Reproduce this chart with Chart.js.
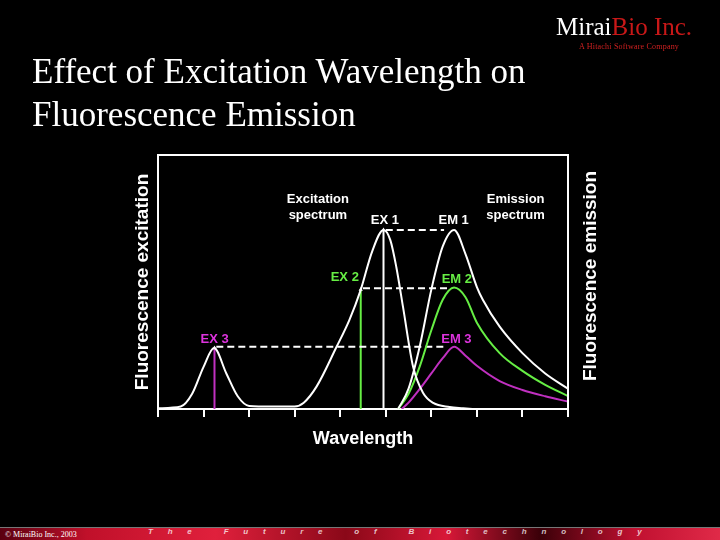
<!DOCTYPE html>
<html lang="en">
<head>
<meta charset="UTF-8">
<title>Effect of Excitation Wavelength on Fluorescence Emission</title>
<script src="https://cdn.jsdelivr.net/npm/chart.js"></script>
<style>
  body { margin:0; background:#000; width:720px; height:540px; overflow:hidden; position:relative; }
  #chart { position:absolute; left:0; top:0; }
  .title { position:absolute; left:32px; top:50px; color:#fff; font-family:"Liberation Serif", serif; font-size:35px; line-height:43px; }
  .logo { position:absolute; left:556px; top:14px; font-family:"Liberation Serif", serif; font-size:25px; line-height:25px; color:#fff; }
  .logo span { color:#c81818; }
  .sub { position:absolute; left:579px; top:42px; font-family:"Liberation Serif", serif; font-size:8px; color:#d02020; letter-spacing:0.2px; }
  .footer { position:absolute; left:0; top:527px; width:720px; height:13px; border-top:1px solid #777;
    background:linear-gradient(90deg,#5a0010 0%,#c0102a 12%,#e0203c 30%,#8a0818 48%,#d81838 62%,#3a0008 75%,#c01030 88%,#e02a48 100%); }
  .copy { position:absolute; left:5px; top:2px; font-family:"Liberation Serif", serif; font-size:8px; color:#fff; }
  .motto { position:absolute; left:148px; top:-1px; font-family:"Liberation Sans", sans-serif; font-style:italic; font-weight:bold; font-size:8px; color:rgba(255,255,255,0.75); letter-spacing:14.8px; white-space:nowrap; }
</style>
</head>
<body>
<canvas id="chart" width="720" height="540"></canvas>
<div class="title">Effect of Excitation Wavelength on<br>Fluorescence Emission</div>
<div class="logo">Mirai<span>Bio Inc.</span></div>
<div class="sub">A Hitachi Software Company</div>
<div class="footer">
  <div class="copy">© MiraiBio Inc., 2003</div>
  <div class="motto">The Future of Biotechnology</div>
</div>
<script>
// excitation spectrum (white)
var exX = [0, 0.5, 0.75, 1.0, 1.23, 1.5, 1.75, 2.0, 2.5, 3.0, 3.2, 3.48, 3.92, 4.2, 4.45, 4.7, 4.95, 5.1, 5.23, 5.38, 5.6, 5.82, 6.04, 6.4, 6.7, 6.9];
var exY = [0.3, 1, 6, 16.6, 24, 14, 5, 1.2, 1, 1, 2.5, 8.8, 24.5, 35, 46.9, 62, 70.5, 66.5, 56, 40, 16.6, 6.3, 2.4, 0.8, 0.3, 0];

// emission spectra at the three excitation wavelengths
var em1X = [5.27, 5.5, 5.75, 6.0, 6.25, 6.5, 6.75, 7.0, 7.13, 7.5, 8.0, 8.5, 9.0];
var em1Y = [0, 8, 25, 47, 64, 70.5, 61, 48, 43, 32.4, 22, 14, 8];
var em2X = [5.27, 5.5, 5.75, 6.0, 6.25, 6.5, 6.75, 7.0, 7.5, 8.0, 8.5, 9.0];
var em2Y = [0, 6, 17, 31, 43, 47.8, 44, 34, 22, 15, 9.5, 5.1];
var em3X = [5.35, 5.5, 5.75, 6.0, 6.25, 6.5, 6.75, 7.0, 7.5, 8.0, 8.5, 9.0];
var em3Y = [0, 2.5, 8, 14, 20, 24.5, 21, 17, 11, 7.5, 5, 2.9];

// excitation wavelengths EX1..EX3 and their heights
var markX = [4.95, 4.45, 1.24];
var markTop = [70.5, 47, 24];
// dashed links EX -> EM
var dashLevel = [70.5, 47.5, 24.5];
var dashFrom = [5.0, 4.5, 1.28];
var dashTo = [6.28, 6.4, 6.33];

var WHITE = '#ffffff', GREEN = '#66ee44', MAGENTA = '#c030c0';
var markColors = [WHITE, GREEN, MAGENTA];

function pts(xs, ys) {
  return xs.map(function (x, i) { return { x: x, y: ys[i] }; });
}

var datasets = [];
function curve(xs, ys, color) {
  datasets.push({ data: pts(xs, ys), borderColor: color, borderWidth: 2, pointRadius: 0,
    cubicInterpolationMode: 'monotone', fill: false });
}
curve(exX, exY, WHITE);
curve(em1X, em1Y, WHITE);
curve(em2X, em2Y, GREEN);
curve(em3X, em3Y, MAGENTA);

for (var i = 0; i < dashLevel.length; i++) {
  datasets.push({ data: [{ x: dashFrom[i], y: dashLevel[i] }, { x: dashTo[i], y: dashLevel[i] }],
    borderColor: WHITE, borderWidth: 2, borderDash: [7, 4], pointRadius: 0 });
}
for (var j = 0; j < markX.length; j++) {
  datasets.push({ data: [{ x: markX[j], y: 0 }, { x: markX[j], y: markTop[j] }],
    borderColor: markColors[j], backgroundColor: WHITE, borderWidth: 2,
    pointRadius: [0, 2.5], pointStyle: 'triangle', pointBorderWidth: 0 });
}

// text annotations in data coordinates
var notes = [
  { t: 'Excitation', x: 3.51, y: 82.7, c: WHITE },
  { t: 'spectrum', x: 3.51, y: 76.4, c: WHITE },
  { t: 'Emission', x: 7.85, y: 82.7, c: WHITE },
  { t: 'spectrum', x: 7.85, y: 76.4, c: WHITE },
  { t: 'EX 1', x: 4.98, y: 74.4, c: WHITE },
  { t: 'EM 1', x: 6.49, y: 74.4, c: WHITE },
  { t: 'EX 2', x: 4.1, y: 51.8, c: GREEN },
  { t: 'EM 2', x: 6.56, y: 51, c: GREEN },
  { t: 'EX 3', x: 1.245, y: 27.4, c: '#dd33dd' },
  { t: 'EM 3', x: 6.55, y: 27.4, c: '#dd33dd' }
];

var decor = {
  id: 'decor',
  afterDatasetsDraw: function (chart) {
    var ctx = chart.ctx, a = chart.chartArea;
    var sx = chart.scales.x, sy = chart.scales.y;
    ctx.save();
    ctx.strokeStyle = WHITE;
    ctx.lineWidth = 2;
    ctx.beginPath();
    ctx.moveTo(a.left, a.top); ctx.lineTo(a.right, a.top); ctx.lineTo(a.right, a.bottom);
    ctx.stroke();

    ctx.font = 'bold 13px "Liberation Sans", Arial, sans-serif';
    ctx.textAlign = 'center';
    ctx.textBaseline = 'middle';
    notes.forEach(function (n) {
      ctx.fillStyle = n.c;
      ctx.fillText(n.t, sx.getPixelForValue(n.x), sy.getPixelForValue(n.y));
    });

    // right axis title, reads bottom to top
    ctx.translate(591, (a.top + a.bottom) / 2 - 6);
    ctx.rotate(-Math.PI / 2);
    ctx.fillStyle = WHITE;
    ctx.font = 'bold 19px "Liberation Sans", Arial, sans-serif';
    ctx.fillText('Fluorescence emission', 0, 0);
    ctx.restore();
  }
};

new Chart(document.getElementById('chart'), {
  type: 'line',
  data: { datasets: datasets },
  plugins: [decor],
  options: {
    responsive: false,
    animation: false,
    layout: { padding: { left: 120, top: 155, right: 152, bottom: 81 } },
    plugins: { legend: { display: false }, tooltip: { enabled: false } },
    scales: {
      x: {
        type: 'linear', min: 0, max: 9,
        ticks: { display: false, stepSize: 1 },
        grid: { display: true, drawOnChartArea: false, drawTicks: true, tickLength: 8, color: WHITE, lineWidth: 2 },
        border: { display: true, color: WHITE, width: 2 },
        title: { display: true, text: 'Wavelength', color: WHITE,
          font: { family: 'Liberation Sans', size: 18, weight: 'bold' }, padding: { top: 0, bottom: 9 } },
        afterFit: function (s) { s.height = 50; }
      },
      y: {
        min: 0, max: 100,
        ticks: { display: false },
        grid: { display: false },
        border: { display: true, color: WHITE, width: 2 },
        title: { display: true, text: 'Fluorescence excitation', color: WHITE,
          font: { family: 'Liberation Sans', size: 19, weight: 'bold' }, padding: { top: 11, bottom: 0 } },
        afterFit: function (s) { s.width = 38; }
      }
    }
  }
});
</script>
</body>
</html>
